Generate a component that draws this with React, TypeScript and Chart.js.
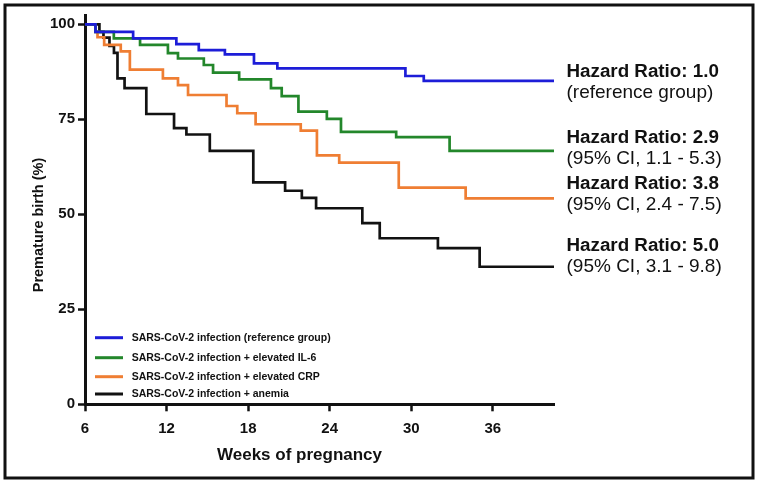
import { useEffect, useRef } from 'react';
import { Chart, registerables } from 'chart.js';

Chart.register(...registerables);

const seriesLabels = [
  'SARS-CoV-2 infection (reference group)',
  'SARS-CoV-2 infection + elevated IL-6',
  'SARS-CoV-2 infection + elevated CRP',
  'SARS-CoV-2 infection + anemia',
];

const blueWeeks = [6, 6.77, 9.54, 12.72, 14.37, 16.29, 18.43, 20.15, 29.57, 30.92, 40.5];
const blueSurv = [100, 98.0, 96.3, 94.8, 93.2, 92.1, 89.7, 88.4, 86.4, 85.1, 85.1];

const greenWeeks = [6, 6.77, 8.12, 10.05, 12.1, 12.84, 14.74, 15.42, 17.34, 19.68, 20.47, 21.7, 23.79, 24.83, 28.89, 32.82, 40.5];
const greenSurv = [100, 98.0, 96.3, 94.6, 92.4, 91.0, 89.3, 87.3, 85.5, 83.2, 81.1, 77.0, 75.1, 71.7, 70.3, 66.7, 66.7];

const orangeWeeks = [6, 6.77, 6.92, 7.41, 8.63, 9.3, 11.73, 12.84, 13.58, 16.41, 17.2, 18.55, 21.87, 23.06, 24.7, 29.08, 34.0, 40.5];
const orangeSurv = [100, 98.0, 96.6, 94.6, 92.9, 88.1, 85.8, 84.0, 81.4, 78.5, 76.6, 73.7, 72.0, 65.5, 63.6, 57.0, 54.2, 54.2];

const blackWeeks = [6, 7.06, 7.36, 7.8, 8.13, 8.39, 8.91, 10.51, 12.55, 13.46, 15.18, 18.38, 20.72, 21.95, 23.0, 26.4, 27.68, 31.96, 35.03, 40.5];
const blackSurv = [100, 98.0, 96.5, 94.3, 92.5, 85.8, 83.2, 76.4, 72.7, 71.0, 66.7, 58.4, 56.2, 54.3, 51.6, 47.7, 43.7, 41.1, 36.2, 36.2];

const xTickValues = [6, 12, 18, 24, 30, 36];
const yTickValues = [0, 25, 50, 75, 100];

const hazardTitles = ['Hazard Ratio: 1.0', 'Hazard Ratio: 2.9', 'Hazard Ratio: 3.8', 'Hazard Ratio: 5.0'];
const hazardNotes = ['(reference group)', '(95% CI, 1.1 - 5.3)', '(95% CI, 2.4 - 7.5)', '(95% CI, 3.1 - 9.8)'];

const xTitle = 'Weeks of pregnancy';
const yTitle = 'Premature birth (%)';

const COLORS = ['#1d1dd8', '#23872b', '#ef7e33', '#121212'];
const FONT = '"Liberation Sans", Arial, sans-serif';

function pts(xs: number[], ys: number[]) {
  return xs.map((x, i) => ({ x, y: ys[i] }));
}

const decorPlugin = {
  id: 'decor',
  beforeDraw(chart: any) {
    const ctx = chart.ctx;
    ctx.save();
    ctx.fillStyle = '#ffffff';
    ctx.fillRect(0, 0, chart.width, chart.height);
    ctx.restore();
  },
  afterDraw(chart: any) {
    const ctx = chart.ctx;
    ctx.save();
    // frame
    ctx.strokeStyle = '#111';
    ctx.lineWidth = 3;
    ctx.strokeRect(5, 5, 748, 473);

    // axis titles
    ctx.fillStyle = '#111';
    ctx.font = `bold 17px ${FONT}`;
    ctx.textAlign = 'center';
    ctx.textBaseline = 'alphabetic';
    ctx.fillText(xTitle, 299.5, 460);

    ctx.save();
    ctx.translate(39, 225);
    ctx.rotate(-Math.PI / 2);
    ctx.font = `bold 14.5px ${FONT}`;
    ctx.textBaseline = 'middle';
    ctx.fillText(yTitle, 0, 0);
    ctx.restore();

    // legend inside plot
    const rows = [337.7, 357.7, 376.7, 394];
    chart.data.datasets.forEach((ds: any, i: number) => {
      const y = rows[i];
      ctx.strokeStyle = ds.borderColor;
      ctx.lineWidth = 3;
      ctx.beginPath();
      ctx.moveTo(95, y);
      ctx.lineTo(123, y);
      ctx.stroke();
      ctx.fillStyle = '#111';
      ctx.font = `bold 10.5px ${FONT}`;
      ctx.textAlign = 'left';
      ctx.textBaseline = 'middle';
      ctx.fillText(ds.label, 131.7, y);
    });

    // hazard ratio annotations
    const base1 = [77.3, 143.3, 189.3, 250.7];
    hazardTitles.forEach((t, i) => {
      ctx.fillStyle = '#111';
      ctx.textAlign = 'left';
      ctx.textBaseline = 'alphabetic';
      ctx.font = `bold 18.8px ${FONT}`;
      ctx.fillText(t, 566.5, base1[i]);
      ctx.font = `19px ${FONT}`;
      ctx.fillText(hazardNotes[i], 566.5, base1[i] + 21);
    });
    ctx.restore();
  },
};

export default function App() {
  const ref = useRef<HTMLCanvasElement | null>(null);

  useEffect(() => {
    if (!ref.current) return;
    const mk = (label: string, xs: number[], ys: number[], color: string, order: number) => ({
      label,
      data: pts(xs, ys),
      borderColor: color,
      backgroundColor: color,
      borderWidth: 2.7,
      stepped: 'before' as const,
      pointRadius: 0,
      fill: false,
      order,
    });
    const chart = new Chart(ref.current, {
      type: 'line',
      data: {
        datasets: [
          mk(seriesLabels[0], blueWeeks, blueSurv, COLORS[0], 0),
          mk(seriesLabels[1], greenWeeks, greenSurv, COLORS[1], 1),
          mk(seriesLabels[2], orangeWeeks, orangeSurv, COLORS[2], 2),
          mk(seriesLabels[3], blackWeeks, blackSurv, COLORS[3], 3),
        ],
      },
      options: {
        animation: false,
        responsive: false,
        layout: { padding: { left: 0, right: 204, top: 15.2, bottom: 0 } },
        plugins: {
          legend: { display: false },
          tooltip: { enabled: false },
        },
        scales: {
          x: {
            type: 'linear',
            min: 6,
            max: 40.5,
            afterBuildTicks: (s: any) => {
              s.ticks = xTickValues.map((v) => ({ value: v }));
            },
            afterFit: (s: any) => {
              s.height = 78.7;
            },
            ticks: {
              color: '#111',
              font: { family: FONT, size: 15, weight: 'bold' },
              padding: 9,
              maxRotation: 0,
              autoSkip: false,
            },
            grid: {
              drawOnChartArea: false,
              drawTicks: true,
              tickLength: 7,
              tickWidth: 2.5,
              tickColor: '#111',
            },
            border: { display: true, width: 3, color: '#111' },
          },
          y: {
            type: 'linear',
            min: 0,
            max: 102.4,
            afterBuildTicks: (s: any) => {
              s.ticks = yTickValues.map((v) => ({ value: v }));
            },
            afterFit: (s: any) => {
              s.width = 85;
            },
            ticks: {
              color: '#111',
              font: { family: FONT, size: 15, weight: 'bold' },
              padding: 3,
              autoSkip: false,
            },
            grid: {
              drawOnChartArea: false,
              drawTicks: true,
              tickLength: 7,
              tickWidth: 2.5,
              tickColor: '#111',
            },
            border: { display: true, width: 3, color: '#111' },
          },
        },
      },
      plugins: [decorPlugin],
    } as any);
    return () => chart.destroy();
  }, []);

  return (
    <div style={{ position: 'absolute', left: 0, top: 0, width: 758, height: 483, background: '#fff' }}>
      <canvas ref={ref} width={758} height={483} style={{ display: 'block' }} />
    </div>
  );
}
